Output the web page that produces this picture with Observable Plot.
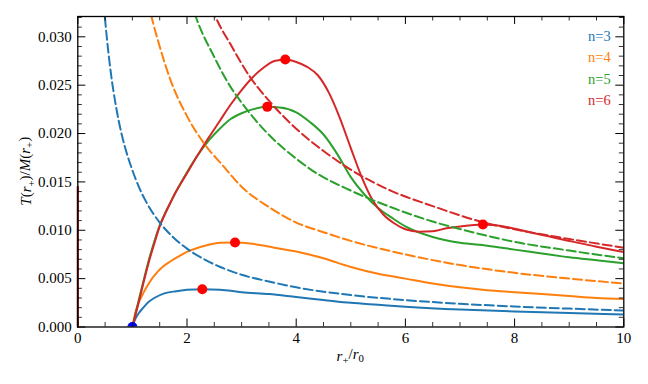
<!DOCTYPE html>
<html><head><meta charset="utf-8">
<script src="https://cdn.jsdelivr.net/npm/d3@7"></script>
<script src="https://cdn.jsdelivr.net/npm/@observablehq/plot@0.6"></script>
<style>
body{margin:0;background:#fff}
#chart svg text, #chart svg tspan{font-family:'Liberation Serif', serif !important;}
</style>
</head><body><div id="chart"></div>
<script>
const seriesNames = ["n=3", "n=4", "n=5", "n=6"];
const seriesColors = ["#1f77b4", "#ff7f0e", "#2ca02c", "#d62728"];

// solid curves
const solid3X = [1.0, 1.05, 1.1, 1.2, 1.3, 1.4, 1.6, 1.8, 2.0, 2.28, 2.6, 3.0, 3.5, 4.0, 4.5, 5.0, 5.5, 6.0, 7.0, 8.0, 9.0, 10];
const solid3Y = [0, 0.0008, 0.0013, 0.0020, 0.0026, 0.0030, 0.0035, 0.0037, 0.00385, 0.0039, 0.00385, 0.0036, 0.0034, 0.0031, 0.0028, 0.0025, 0.0023, 0.0021, 0.0018, 0.0016, 0.00145, 0.0013];
const solid4X = [1.0, 1.05, 1.1, 1.2, 1.3, 1.4, 1.55, 1.7, 1.85, 2.0, 2.2, 2.4, 2.6, 2.88, 3.2, 3.6, 4.0, 4.5, 5.0, 5.5, 6.0, 6.5, 7.0, 7.5, 8.0, 8.5, 9.0, 9.5, 10];
const solid4Y = [0, 0.0014, 0.0023, 0.0035, 0.0045, 0.0053, 0.0062, 0.0068, 0.0073, 0.00776, 0.0082, 0.0085, 0.0087, 0.00873, 0.0086, 0.0082, 0.0078, 0.0071, 0.0062, 0.0055, 0.0050, 0.0045, 0.0041, 0.0038, 0.0036, 0.0034, 0.0032, 0.0030, 0.0029];
const solid5X = [1.0, 1.05, 1.1, 1.2, 1.3, 1.4, 1.5, 1.6, 1.7, 1.8, 2.0, 2.2, 2.4, 2.6, 2.8, 3.0, 3.2, 3.47, 3.7, 4.0, 4.25, 4.5, 4.75, 5.0, 5.25, 5.5, 5.75, 6.0, 6.5, 7.0, 7.5, 8.0, 8.5, 9.0, 9.5, 10];
const solid5Y = [0, 0.0012, 0.0024, 0.0047, 0.0069, 0.0088, 0.0105, 0.0118, 0.0129, 0.0140, 0.0160, 0.0178, 0.0193, 0.0205, 0.0215, 0.0221, 0.0225, 0.02276, 0.0227, 0.0222, 0.0212, 0.0199, 0.0179, 0.0155, 0.0137, 0.0123, 0.0113, 0.0104, 0.0093, 0.0087, 0.0084, 0.0080, 0.0076, 0.0072, 0.0069, 0.0066];
const solid6X = [1.0, 1.05, 1.1, 1.2, 1.3, 1.4, 1.5, 1.6, 1.7, 1.8, 2.0, 2.2, 2.4, 2.6, 2.8, 3.0, 3.2, 3.4, 3.6, 3.8, 4.0, 4.2, 4.4, 4.6, 4.8, 5.0, 5.2, 5.4, 5.6, 5.8, 6.0, 6.25, 6.5, 6.75, 7.0, 7.42, 7.8, 8.2, 8.6, 9.0, 9.5, 10];
const solid6Y = [0, 0.0011, 0.0022, 0.0045, 0.0067, 0.0086, 0.0104, 0.0117, 0.0129, 0.0140, 0.0159, 0.0178, 0.0196, 0.0213, 0.0230, 0.0245, 0.0258, 0.0268, 0.0275, 0.02766, 0.0274, 0.0269, 0.0260, 0.0242, 0.0216, 0.0185, 0.0155, 0.0131, 0.0116, 0.0107, 0.0101, 0.00985, 0.0099, 0.0102, 0.0104, 0.0106, 0.0104, 0.0099, 0.0094, 0.0089, 0.0083, 0.00776];
// faint n=6 trace lying on the left spine (x = 0)
const spine6X = [0, 0];
const spine6Y = [0, 0.0145];

// dashed curves
const dashed3X = [0.44, 0.5, 0.6, 0.7, 0.8, 0.9, 1.0, 1.12, 1.25, 1.5, 1.75, 2.0, 2.3, 2.61, 3.0, 3.5, 4.0, 5.0, 6.0, 7.0, 8.0, 9.0, 10];
const dashed3Y = [0.0360, 0.0318, 0.0265, 0.0228, 0.0200, 0.0179, 0.0162, 0.01446, 0.01296, 0.0108, 0.00926, 0.0081, 0.00704, 0.0062, 0.0054, 0.0047, 0.0041, 0.0033, 0.00278, 0.0024, 0.00212, 0.0019, 0.0017];
const dashed4X = [1.2, 1.35, 1.5, 1.7, 2.0, 2.31, 2.67, 3.0, 3.5, 4.0, 4.5, 5.0, 6.0, 7.0, 8.0, 9.0, 10];
const dashed4Y = [0.0362, 0.0321, 0.0290, 0.0255, 0.0218, 0.0190, 0.0166, 0.0145, 0.0124, 0.0108, 0.0098, 0.0089, 0.0075, 0.0064, 0.0056, 0.0050, 0.0045];
const dashed5X = [2.0, 2.16, 2.5, 2.8, 3.0, 3.46, 4.0, 4.29, 5.0, 5.73, 6.5, 7.3, 8.0, 9.0, 10];
const dashed5Y = [0.0350, 0.0321, 0.0279, 0.0248, 0.0232, 0.0201, 0.0174, 0.0162, 0.0141, 0.0124, 0.0109, 0.0097, 0.0088, 0.0079, 0.0071];
const dashed6X = [2.3, 2.52, 2.8, 3.16, 3.5, 4.0, 4.5, 4.99, 5.73, 6.5, 7.44, 8.0, 9.0, 10];
const dashed6Y = [0.0355, 0.0321, 0.0292, 0.0258, 0.0234, 0.0205, 0.0182, 0.0163, 0.0141, 0.0125, 0.0108, 0.0101, 0.0091, 0.0082];

// markers
const peakX = [2.28, 2.88, 3.47, 3.80, 7.42];
const peakY = [0.0039, 0.00873, 0.02276, 0.02766, 0.0106];
const originX = [1.0];
const originY = [0.0];

// ticks
const xTickLabels = [0, 2, 4, 6, 8, 10];
const yTickLabels = [0, 0.005, 0.010, 0.015, 0.020, 0.025, 0.030];

const solidX = [solid3X, solid4X, solid5X, solid6X];
const solidY = [solid3Y, solid4Y, solid5Y, solid6Y];
const dashedX = [dashed3X, dashed4X, dashed5X, dashed6X];
const dashedY = [dashed3Y, dashed4Y, dashed5Y, dashed6Y];

const toRows = (xs, ys, n) => xs.map((x, i) => ({x, y: ys[i], n}));

const W = 648, H = 384, mL = 77.3, mR = 24.7, mT = 16, mB = 57.5;
const plotW = W - mL - mR, plotH = H - mT - mB;
const majorLen = 8, minorLen = 4.5;
const FONT = "'Liberation Serif', serif";

const xMinor = d3.range(0, 10.001, 0.5).filter(v => !xTickLabels.includes(v));
const yMinor = d3.range(0, 33).map(i => i / 1000).filter(v => v <= 0.0321 && !yTickLabels.some(t => Math.abs(t - v) < 1e-9));

const lineMarks = [
  Plot.line(toRows(spine6X, spine6Y, "n=6"), {x: "x", y: "y", stroke: "#a01c1c", strokeWidth: 2.2})
];
seriesNames.forEach((name, i) => {
  lineMarks.push(Plot.line(toRows(solidX[i], solidY[i], name), {x: "x", y: "y", stroke: seriesColors[i], strokeWidth: 2, curve: "monotone-x", clip: true}));
});
seriesNames.forEach((name, i) => {
  lineMarks.push(Plot.line(toRows(dashedX[i], dashedY[i], name), {x: "x", y: "y", stroke: seriesColors[i], strokeWidth: 2, strokeDasharray: "9,4", curve: "monotone-x", clip: true}));
});

const legendMarks = seriesNames.map((name, i) =>
  Plot.text([name], {frameAnchor: "top-right", dx: -13, dy: 20 + 21.3 * i, text: d => d, fill: seriesColors[i], textAnchor: "end", lineAnchor: "middle", fontSize: 14.5, fontFamily: FONT})
);

const chart = Plot.plot({
  width: W, height: H,
  marginLeft: mL, marginRight: mR, marginTop: mT, marginBottom: mB,
  style: `font-family: ${FONT}; font-size: 15px; background: #fff; color: #000;`,
  x: {domain: [0, 10], label: null},
  y: {domain: [0, 0.0321], label: null},
  marks: [
    ...lineMarks,
    Plot.dot(originX.map((x, i) => ({x, y: originY[i]})), {x: "x", y: "y", r: 5, fill: "blue", clip: true}),
    Plot.dot(peakX.map((x, i) => ({x, y: peakY[i]})), {x: "x", y: "y", r: 5, fill: "red"}),
    // ticks (inward, all four sides)
    Plot.ruleX(xTickLabels, {x: d => d, insetTop: plotH - majorLen, stroke: "#000", strokeWidth: 1}),
    Plot.ruleX(xTickLabels, {x: d => d, insetBottom: plotH - majorLen, stroke: "#000", strokeWidth: 1}),
    Plot.ruleX(xMinor, {x: d => d, insetTop: plotH - minorLen, stroke: "#000", strokeWidth: 0.8}),
    Plot.ruleX(xMinor, {x: d => d, insetBottom: plotH - minorLen, stroke: "#000", strokeWidth: 0.8}),
    Plot.ruleY(yTickLabels, {y: d => d, insetRight: plotW - majorLen, stroke: "#000", strokeWidth: 1}),
    Plot.ruleY(yTickLabels, {y: d => d, insetLeft: plotW - majorLen, stroke: "#000", strokeWidth: 1}),
    Plot.ruleY(yMinor, {y: d => d, insetRight: plotW - minorLen, stroke: "#000", strokeWidth: 0.8}),
    Plot.ruleY(yMinor, {y: d => d, insetLeft: plotW - minorLen, stroke: "#000", strokeWidth: 0.8}),
    Plot.axisX(xTickLabels, {tickSize: 0, tickPadding: 5, tickFormat: d => String(d), label: null, fontSize: 15, fontFamily: FONT}),
    Plot.axisY(yTickLabels, {tickSize: 0, tickPadding: 6, tickFormat: d3.format(".3f"), label: null, fontSize: 15, fontFamily: FONT}),
    Plot.frame({stroke: "#000", strokeWidth: 1.3}),
    ...legendMarks
  ]
});

document.getElementById("chart").appendChild(chart);

// axis titles with math-style italics and subscripts
function mathText(textSel, parts) {
  let prevSub = false;
  parts.forEach(p => {
    const t = textSel.append("tspan").text(p.t);
    if (p.i) t.attr("font-style", "italic");
    if (p.sub) { t.attr("font-size", "72%"); if (!prevSub) t.attr("dy", "0.3em"); }
    else if (prevSub) { t.attr("dy", "-0.3em"); }
    prevSub = !!p.sub;
  });
}
const svg = d3.select(chart);
const yTitle = svg.append("text")
  .attr("transform", `translate(26,${(mT + H - mB) / 2}) rotate(-90)`)
  .attr("text-anchor", "middle").attr("dy", "0.35em")
  .attr("font-family", FONT).attr("font-size", 15).attr("fill", "#000");
mathText(yTitle, [{t: "T", i: 1}, {t: "("}, {t: "r", i: 1}, {t: "+", sub: 1}, {t: ")/"}, {t: "M", i: 1}, {t: "("}, {t: "r", i: 1}, {t: "+", sub: 1}, {t: ")"}]);
const xTitle = svg.append("text")
  .attr("x", mL + plotW / 2).attr("y", H - mB + 34)
  .attr("text-anchor", "middle")
  .attr("font-family", FONT).attr("font-size", 15).attr("fill", "#000");
mathText(xTitle, [{t: "r", i: 1}, {t: "+", sub: 1}, {t: "/"}, {t: "r", i: 1}, {t: "0", sub: 1}]);
</script>
</body></html>
